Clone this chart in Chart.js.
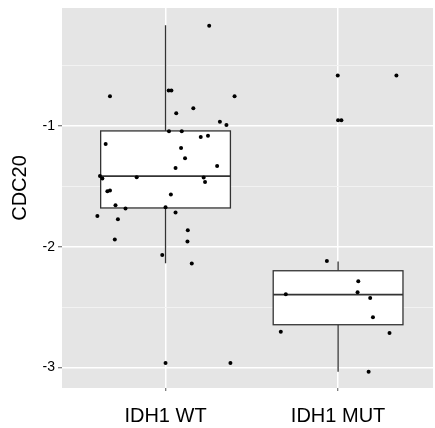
<!DOCTYPE html>
<html>
<head>
<meta charset="utf-8">
<script src="https://cdn.jsdelivr.net/npm/chart.js@4/dist/chart.umd.min.js"></script>
<style>
  body { margin: 0; background: #fff; }
  #wrap { width: 435px; height: 428px; }
</style>
</head>
<body>
<div id="wrap"><canvas id="chart"></canvas></div>
<script>
// categories and tick labels
const groups = ["IDH1 WT", "IDH1 MUT"];
const yTitle = "CDC20";
const yMajorTicks = [-3, -2, -1];
const yMinorTicks = [-2.5, -1.5, -0.5];

// box stats per group
const whiskLow = [-2.137, -3.036];
const boxQ1 = [-1.679, -2.646];
const boxMedian = [-1.416, -2.397];
const boxQ3 = [-1.041, -2.199];
const whiskHigh = [-0.166, -2.122];

// jittered points, IDH1 WT
const wtX = [1.253, 0.678, 1.018, 1.034, 1.400, 1.161, 1.062, 1.315, 1.353, 1.020,
    1.094, 1.204, 1.246, 0.653, 1.090, 1.113, 1.058, 1.299, 0.620, 0.634,
    0.833, 1.221, 1.229, 0.663, 0.678, 1.031, 0.710, 0.768, 0.605, 0.724,
    1.000, 1.058, 1.129, 1.127, 0.706, 0.981, 1.152, 1.000, 1.376];
const wtY = [-0.169, -0.754, -0.707, -0.707, -0.754, -0.853, -0.895, -0.964, -0.992, -1.044,
    -1.044, -1.091, -1.080, -1.149, -1.182, -1.267, -1.348, -1.331, -1.414, -1.436,
    -1.425, -1.427, -1.464, -1.540, -1.535, -1.568, -1.656, -1.684, -1.745, -1.772,
    -1.673, -1.717, -1.864, -1.957, -1.940, -2.068, -2.139, -2.962, -2.962];

// jittered points, IDH1 MUT
const mutX = [1.998, 2.338, 2.000, 2.019, 1.935, 2.117, 2.113, 1.697, 2.186, 2.202, 1.668, 2.298, 2.177];
const mutY = [-0.583, -0.583, -0.953, -0.953, -2.119, -2.285, -2.377, -2.393, -2.424, -2.584, -2.705, -2.714, -3.036];

const points = wtX.map((x, i) => ({ x: x, y: wtY[i] }))
    .concat(mutX.map((x, i) => ({ x: x, y: mutY[i] })));

// grey panel behind everything, plus the y title
const panelBg = {
    id: "panelBg",
    beforeDraw(chart) {
        const { ctx, chartArea: a } = chart;
        ctx.save();
        ctx.fillStyle = "#e5e5e5";
        ctx.fillRect(a.left, a.top, a.right - a.left, a.bottom - a.top);
        ctx.restore();
    },
    afterDraw(chart) {
        const { ctx } = chart;
        ctx.save();
        ctx.translate(20, 188);
        ctx.rotate(-Math.PI / 2);
        ctx.fillStyle = "#000000";
        ctx.font = "20px 'Liberation Sans'";
        ctx.textAlign = "center";
        ctx.textBaseline = "middle";
        ctx.fillText(yTitle, 0, 0);
        ctx.restore();
    }
};

// boxplots drawn under the points
const boxes = {
    id: "boxes",
    beforeDatasetsDraw(chart) {
        const { ctx, scales: { x, y } } = chart;
        const half = 0.376;
        ctx.save();
        ctx.strokeStyle = "#333333";
        ctx.lineWidth = 1.3;
        groups.forEach((g, i) => {
            const cx = x.getPixelForValue(i + 1);
            const l = x.getPixelForValue(i + 1 - half);
            const r = x.getPixelForValue(i + 1 + half);
            const q1 = y.getPixelForValue(boxQ1[i]);
            const q3 = y.getPixelForValue(boxQ3[i]);
            const md = y.getPixelForValue(boxMedian[i]);
            // whiskers
            ctx.beginPath();
            ctx.moveTo(cx, y.getPixelForValue(whiskHigh[i]));
            ctx.lineTo(cx, q3);
            ctx.moveTo(cx, q1);
            ctx.lineTo(cx, y.getPixelForValue(whiskLow[i]));
            ctx.stroke();
            // box
            ctx.fillStyle = "#ffffff";
            ctx.fillRect(l, q3, r - l, q1 - q3);
            ctx.strokeRect(l, q3, r - l, q1 - q3);
            // median
            ctx.beginPath();
            ctx.lineWidth = 1.8;
            ctx.moveTo(l, md);
            ctx.lineTo(r, md);
            ctx.stroke();
            ctx.lineWidth = 1.3;
        });
        ctx.restore();
    }
};

const isMajor = (v) => yMajorTicks.includes(v);

new Chart(document.getElementById("chart"), {
    type: "scatter",
    data: {
        datasets: [{
            data: points,
            pointRadius: 2,
            pointBackgroundColor: "#000000",
            pointBorderWidth: 0,
            pointHoverRadius: 2
        }]
    },
    options: {
        responsive: true,
        maintainAspectRatio: false,
        animation: false,
        layout: { padding: { top: 8, right: 0, left: 0, bottom: 0 } },
        plugins: { legend: { display: false }, tooltip: { enabled: false } },
        scales: {
            x: {
                type: "linear",
                min: 0.4,
                max: 2.55,
                afterBuildTicks: (s) => { s.ticks = [{ value: 1 }, { value: 2 }]; },
                afterFit: (s) => { s.height = 40; s.paddingLeft = 0; s.paddingRight = 0; },
                border: { display: false },
                grid: { color: "#ffffff", lineWidth: 1.5, tickColor: "#555555", tickLength: 3, tickWidth: 1 },
                ticks: {
                    callback: (v) => groups[v - 1],
                    color: "#000000",
                    font: { family: "Liberation Sans", size: 20 },
                    padding: 13,
                    maxRotation: 0
                }
            },
            y: {
                min: -3.17,
                max: -0.023,
                afterBuildTicks: (s) => {
                    s.ticks = yMajorTicks.concat(yMinorTicks).sort((a, b) => a - b).map(v => ({ value: v }));
                },
                afterFit: (s) => { s.width = 62; s.paddingTop = 0; s.paddingBottom = 0; },
                border: { display: false },
                grid: {
                    color: (c) => isMajor(c.tick.value) ? "#ffffff" : "#f2f2f2",
                    lineWidth: (c) => isMajor(c.tick.value) ? 1.5 : 1,
                    tickColor: (c) => isMajor(c.tick.value) ? "#555555" : "rgba(0,0,0,0)",
                    tickLength: 4,
                    tickWidth: 1
                },
                ticks: {
                    callback: (v) => isMajor(v) ? String(v) : "",
                    color: "#000000",
                    font: { family: "Liberation Sans", size: 14 },
                    padding: 3
                }
            }
        }
    },
    plugins: [panelBg, boxes]
});
</script>
</body>
</html>
